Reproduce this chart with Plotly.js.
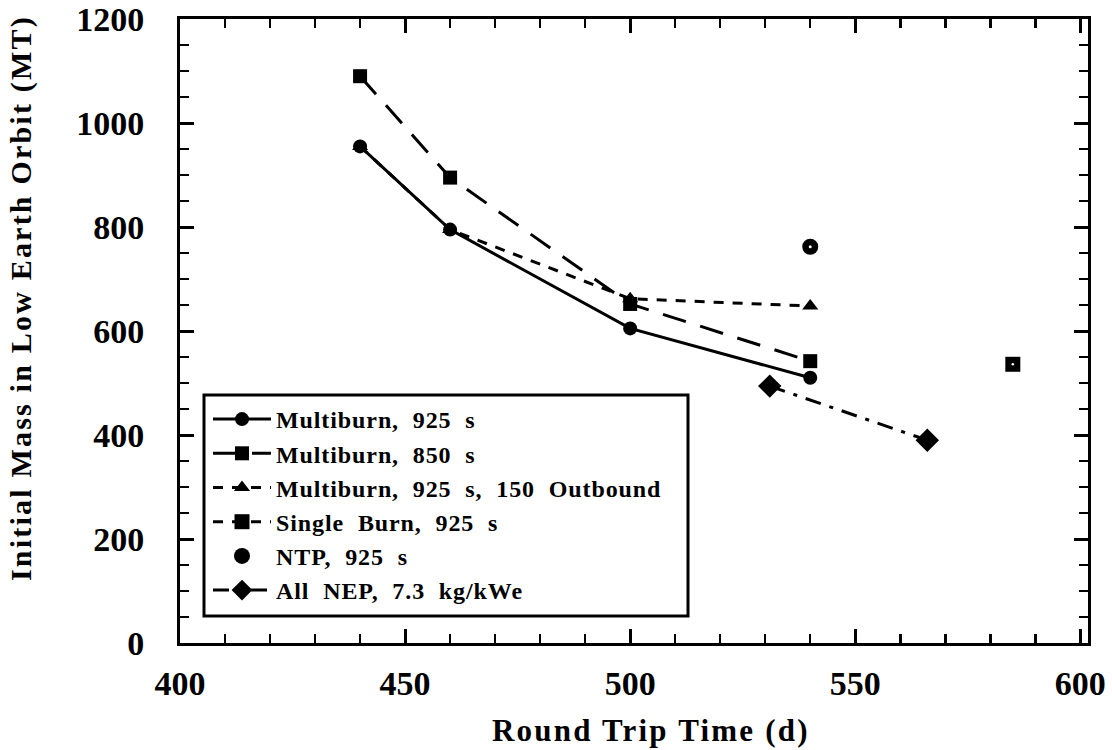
<!DOCTYPE html>
<html><head><meta charset="utf-8">
<script src="https://cdn.plot.ly/plotly-3.0.1.min.js"></script>
<style>
body{margin:0;background:#fff}
#chart{width:1112px;height:750px}
.legendtext{letter-spacing:0.9px}
.annotation-text{letter-spacing:2.2px}
</style></head><body><div id="chart"></div>
<script>
// Data
const mb925X = [440, 460, 500, 540];
const mb925Y = [955, 795, 605, 510];
const mb850X = [440, 460, 500, 540];
const mb850Y = [1090, 895, 652, 542];
const outX = [440, 460, 500, 540];
const outY = [955, 795, 662, 648];
const singleX = [585];
const singleY = [536];
const ntpX = [540];
const ntpY = [762];
const nepX = [531, 566];
const nepY = [494, 390];
const xTicks = [400, 450, 500, 550, 600];
const yTicks = [0, 200, 400, 600, 800, 1000, 1200];
const xTitle = "Round Trip Time (d)";
const yTitle = "Initial Mass in Low Earth Orbit (MT)";

const names = [
  "Multiburn,  925  s",
  "Multiburn,  850  s",
  "Multiburn,  925  s,  150  Outbound",
  "Single  Burn,  925  s",
  "NTP,  925  s",
  "All  NEP,  7.3  kg/kWe"
].map(s => s.replace(/  /g, "\u00a0 "));

const F = "Liberation Serif, Times New Roman, serif";
const blk = "#000";

const traces = [
  {x: outX, y: outY, name: names[2], mode: "lines+markers", legendrank: 3,
   line: {color: blk, width: 3, dash: "10px,9px"}, marker: {symbol: "triangle-up", size: 14, color: blk}},
  {x: mb850X, y: mb850Y, name: names[1], mode: "lines+markers", legendrank: 2,
   line: {color: blk, width: 3, dash: "24px,15px"}, marker: {symbol: "square", size: 14, color: blk}},
  {x: mb925X, y: mb925Y, name: names[0], mode: "lines+markers", legendrank: 1,
   line: {color: blk, width: 3}, marker: {symbol: "circle", size: 14, color: blk}},
  {x: singleX, y: singleY, name: names[3], mode: "lines+markers", legendrank: 4,
   line: {color: blk, width: 3, dash: "10px,9px"}, marker: {symbol: "square", size: 15, color: blk}},
  {x: singleX, y: singleY, mode: "markers", showlegend: false, hoverinfo: "skip",
   marker: {symbol: "circle", size: 2.5, color: "#fff"}},
  {x: ntpX, y: ntpY, name: names[4], mode: "markers", legendrank: 5,
   marker: {symbol: "circle", size: 16, color: blk}},
  {x: ntpX, y: ntpY, mode: "markers", showlegend: false, hoverinfo: "skip",
   marker: {symbol: "circle", size: 3, color: "#fff"}},
  {x: nepX, y: nepY, name: names[5], mode: "lines+markers", legendrank: 6,
   line: {color: blk, width: 3, dash: "16px,9px,4px,9px"}, marker: {symbol: "diamond", size: 18, color: blk}}
];

const W = 1112, H = 750, L = 180, R = 24, T = 19, B = 107;
const pw = W - L - R, ph = H - T - B;
const px = v => (v - L) / pw;
const py = v => (H - B - v) / ph;

const axisCommon = {
  showline: true, linecolor: blk, linewidth: 3, mirror: "ticks",
  ticks: "inside", tickcolor: blk, tickwidth: 3, ticklen: 14,
  showgrid: false, zeroline: false, fixedrange: true,
  tickfont: {family: F, size: 34, color: blk, weight: "bold"}
};

const layout = {
  width: W, height: H,
  margin: {l: L, r: R, t: T, b: B},
  paper_bgcolor: "#fff", plot_bgcolor: "#fff",
  showlegend: true,
  xaxis: Object.assign({}, axisCommon, {
    range: [400, 601.7], tickmode: "array", tickvals: xTicks, ticktext: xTicks.map(String),
    ticklabelstandoff: 8,
    minor: {dtick: 10, tick0: 400, ticks: "inside", ticklen: 9, tickwidth: 2.5, tickcolor: blk, showgrid: false}
  }),
  yaxis: Object.assign({}, axisCommon, {
    range: [0, 1200], tickmode: "array", tickvals: yTicks, ticktext: yTicks.map(String),
    ticklabelstandoff: 26,
    minor: {dtick: 50, tick0: 0, ticks: "inside", ticklen: 9, tickwidth: 2.5, tickcolor: blk, showgrid: false}
  }),
  legend: {
    x: px(208), y: py(397), xanchor: "left", yanchor: "top",
    bgcolor: "rgba(0,0,0,0)", borderwidth: 0,
    font: {family: F, size: 24, color: blk, weight: "bold"},
    tracegroupgap: 0, itemwidth: 58
  },
  annotations: [
    {text: xTitle, xref: "paper", yref: "paper", x: px(651), y: py(730),
     xanchor: "center", yanchor: "middle", showarrow: false,
     font: {family: F, size: 31, color: blk, weight: "bold"}},
    {text: yTitle, xref: "paper", yref: "paper", x: px(21), y: py(298),
     xanchor: "center", yanchor: "middle", showarrow: false, textangle: -90,
     font: {family: F, size: 30, color: blk, weight: "bold"}}
  ],
  shapes: [{
    type: "rect", xref: "paper", yref: "paper", layer: "below",
    x0: px(204), x1: px(688), y0: py(616), y1: py(395),
    line: {color: blk, width: 3}, fillcolor: "#fff"
  }]
};

Plotly.newPlot("chart", traces, layout, {displayModeBar: false, staticPlot: true});
</script></body></html>
